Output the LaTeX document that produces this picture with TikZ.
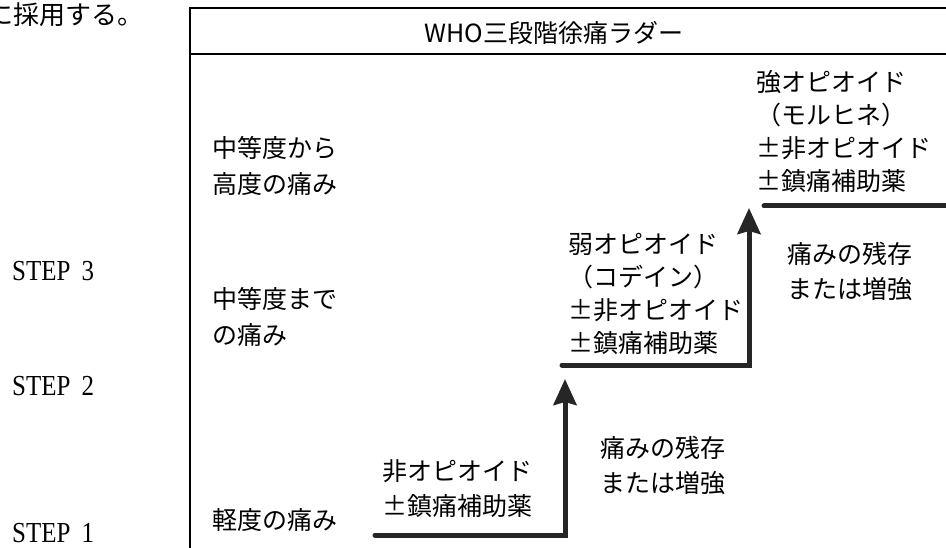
\documentclass[tikz,border=0pt]{standalone}
\usepackage{fontspec}
\setmainfont{Liberation Serif}
\newfontfamily\jp{Noto Sans CJK JP}
\usetikzlibrary{arrows.meta}
\tikzset{
  jtxt/.style={font=\jp\fontsize{25}{36}\selectfont, align=left, inner sep=0pt, anchor=west},
  jtxtb/.style={font=\jp\fontsize{25}{33}\selectfont, align=left, inner sep=0pt, anchor=west},
  steplbl/.style={font=\fontsize{29}{32}\selectfont, inner sep=0pt, anchor=west},
  frameline/.style={line width=1.6pt, black},
  ladder/.style={line width=5pt, black!85, line cap=round, line join=miter},
  ladderarrow/.style={ladder, -{Stealth[length=26pt,width=23pt,inset=3pt]}, shorten >=-2pt},
}
\newcommand{\pmj}{\makebox[1em][l]{±}}
\begin{document}
\begin{tikzpicture}[x=1pt,y=-1pt]
\useasboundingbox (0,0) rectangle (946,548);
\clip (0,0) rectangle (946,548);
% preceding sentence fragment
\node[jtxt, font=\jp\fontsize{26}{30}\selectfont, anchor=west] (prev) at (-13,15) {に採用する。};
% frame
\coordinate (ftr) at (960,8);
\coordinate (ftl) at (190,8);
\coordinate (fbl) at (190,560);
\coordinate (sl) at (190,54);
\coordinate (sr) at (960,54);
\draw[frameline] (ftr) -- (ftl) -- (fbl);
\draw[frameline] (sl) -- (sr);
\node[font=\jp\fontsize{25}{30}\selectfont, inner sep=0pt] (title) at (554,33) {WHO三段階徐痛ラダー};
% STEP labels
\node[steplbl] (st3) at (12,271) {\scalebox{0.86}[1]{STEP\hspace{0.45em}3}};
\node[steplbl] (st2) at (12,386) {\scalebox{0.86}[1]{STEP\hspace{0.45em}2}};
\node[steplbl] (st1) at (12,533) {\scalebox{0.86}[1]{STEP\hspace{0.45em}1}};
% pain levels
\node[jtxt] (p3) at (212,166) {中等度から\\高度の痛み};
\node[jtxt] (p2) at (212,317) {中等度まで\\の痛み};
\node[jtxt] (p1) at (212,520) {軽度の痛み};
% drugs
\node[jtxt, font=\jp\fontsize{25}{35}\selectfont] (d1) at (382,489) {非オピオイド\\\pmj 鎮痛補助薬};
\node[jtxtb] (d2) at (568,294) {弱オピオイド\\（コデイン）\\\pmj 非オピオイド\\\pmj 鎮痛補助薬};
\node[jtxtb] (d3) at (756,131) {強オピオイド\\（モルヒネ）\\\pmj 非オピオイド\\\pmj 鎮痛補助薬};
% persistence notes
\node[jtxt, font=\jp\fontsize{25}{35}\selectfont] (n1) at (600,465) {痛みの残存\\または増強};
\node[jtxt, font=\jp\fontsize{25}{35}\selectfont] (n2) at (787,271) {痛みの残存\\または増強};
% ladder
\coordinate (s1a) at (375,535);
\coordinate (s1b) at (565,535);
\coordinate (a1) at (565,381);
\coordinate (s2a) at (562,365);
\coordinate (s2b) at (749,365);
\coordinate (a2) at (749,210);
\coordinate (s3a) at (764,206);
\coordinate (s3b) at (970,206);
\draw[ladderarrow] (s1a) -- (s1b) -- (a1);
\draw[ladderarrow] (s2a) -- (s2b) -- (a2);
\draw[ladder] (s3a) -- (s3b);
\end{tikzpicture}
\end{document}
